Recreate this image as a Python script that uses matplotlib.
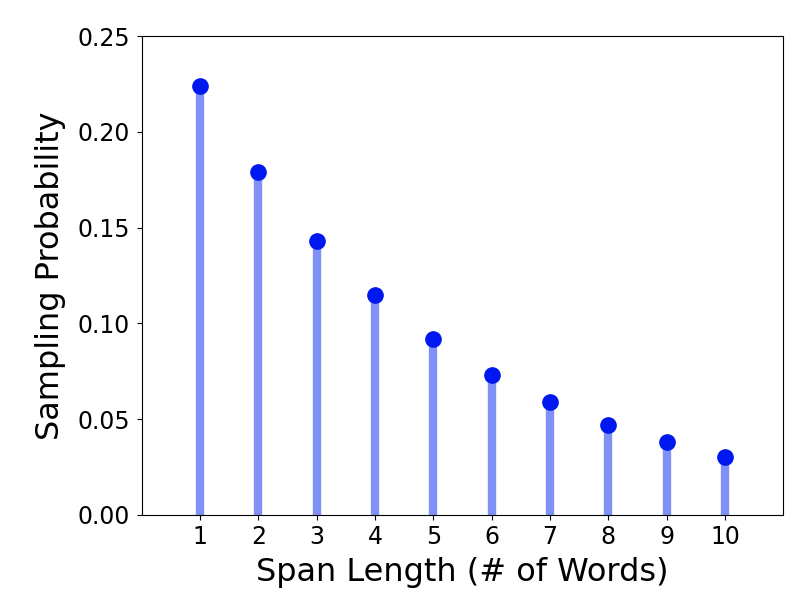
import matplotlib
matplotlib.use('Agg')
import matplotlib.pyplot as plt

# span length vs sampling probability
span_lengths = [1, 2, 3, 4, 5, 6, 7, 8, 9, 10]
probs = [0.224, 0.179, 0.143, 0.115, 0.092, 0.073, 0.059, 0.047, 0.038, 0.030]
y_ticks = [0.00, 0.05, 0.10, 0.15, 0.20, 0.25]

fig = plt.figure(figsize=(8.1, 6), dpi=100)
ax = fig.add_axes([0.175, 0.142, 0.792, 0.798])

ax.vlines(span_lengths, 0, probs, colors='#0022ee', lw=6, alpha=0.5)
ax.plot(span_lengths, probs, 'o', color='#0018f0', ms=11)

ax.set_xlim(0.0, 11.0)
ax.set_ylim(0, 0.25)
ax.set_xticks(span_lengths)
ax.set_yticks(y_ticks)
ax.set_yticklabels(['%.2f' % t for t in y_ticks])
ax.tick_params(labelsize=17)
ax.tick_params(axis='y', pad=5)

ax.set_xlabel('Span Length (# of Words)', fontsize=23, labelpad=6)
ax.set_ylabel('Sampling Probability', fontsize=23, labelpad=8)

fig.savefig('out.png', dpi=100)
